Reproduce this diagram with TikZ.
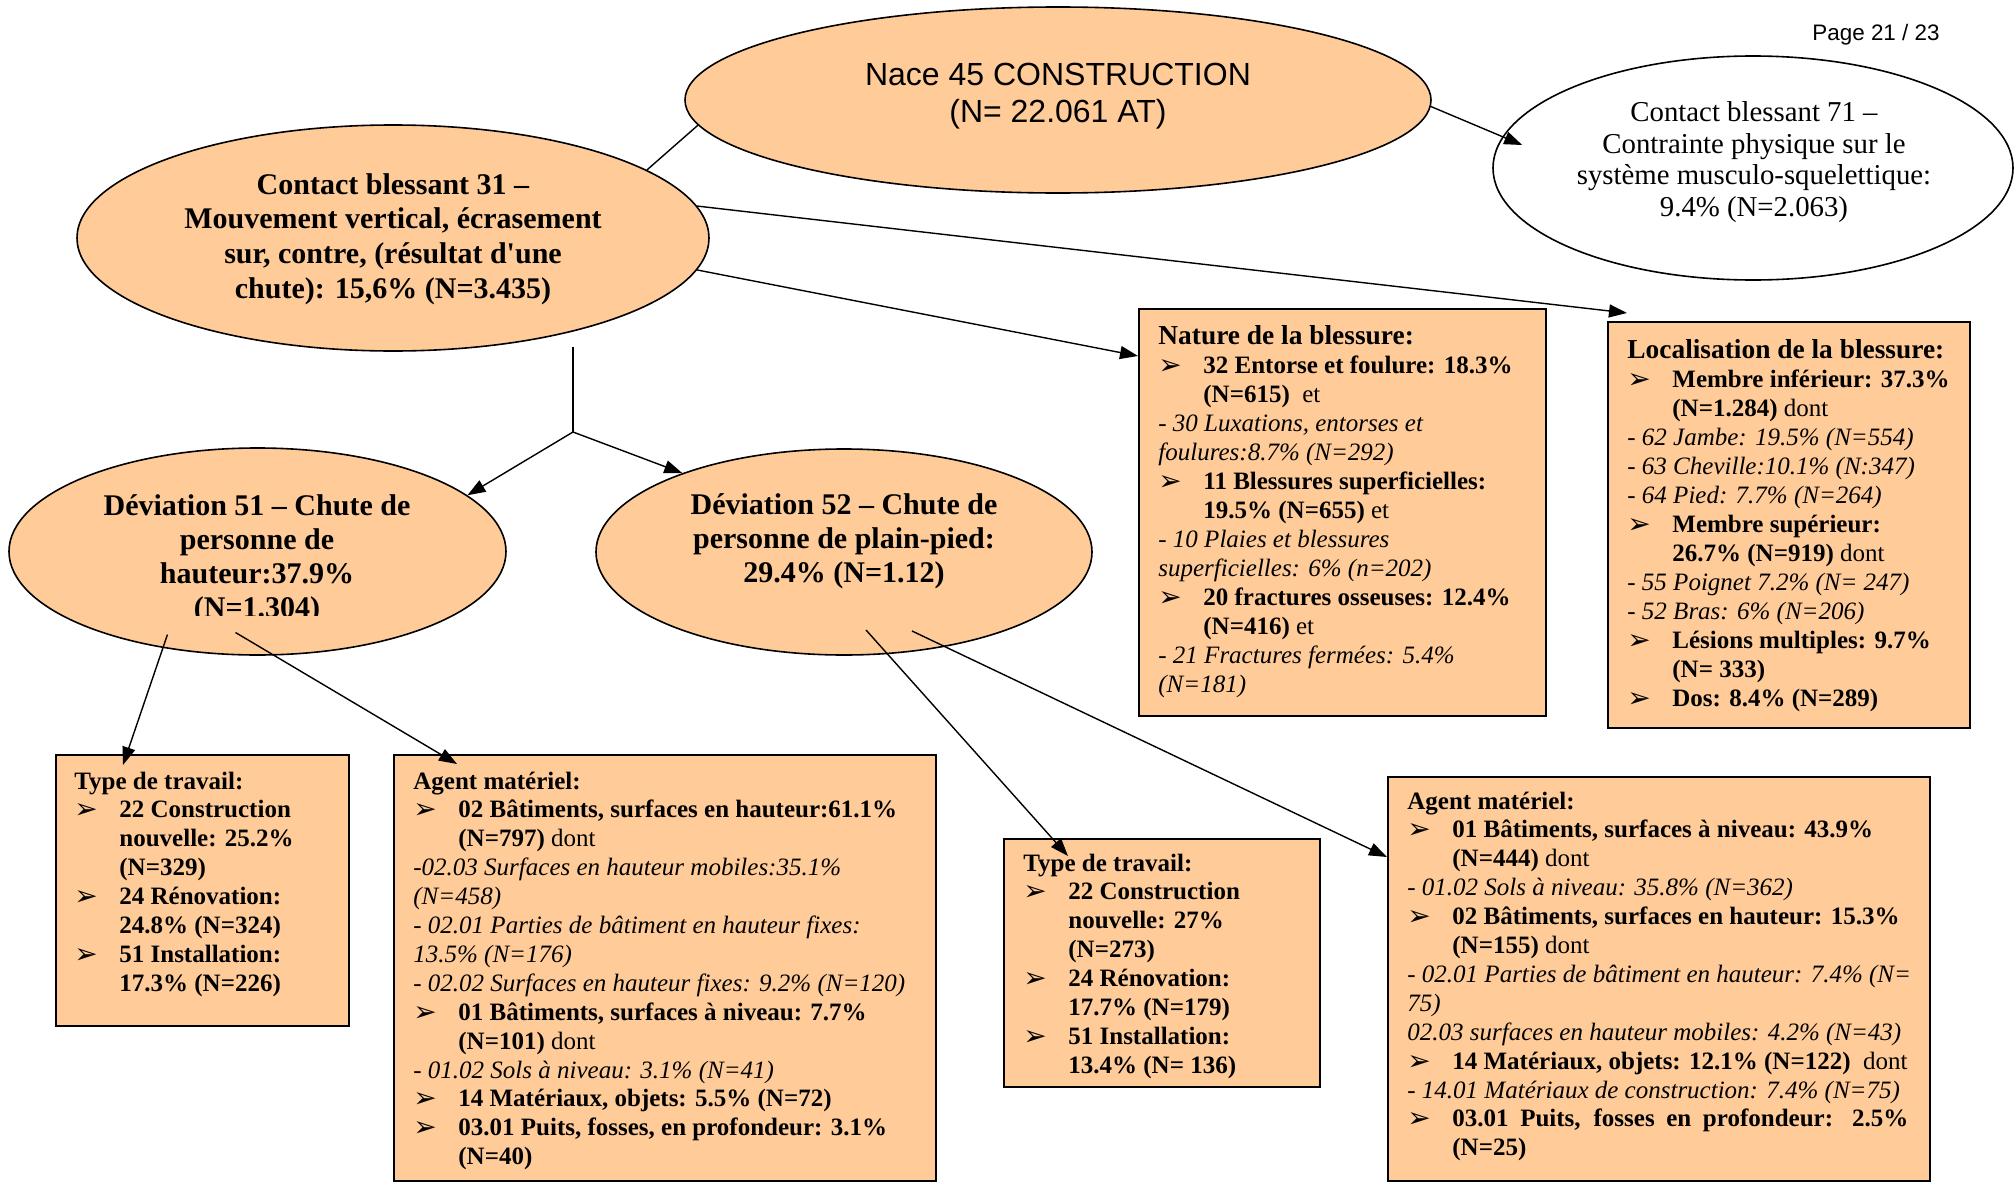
\documentclass[tikz,border=0pt]{standalone}
\usepackage{fontspec}
\setmainfont{Liberation Serif}
\newfontfamily\arialf{Liberation Sans}
\newfontfamily\dejavu{DejaVu Sans}
\usetikzlibrary{shapes.geometric,arrows.meta,calc}
\definecolor{peach}{HTML}{FFCC99}
\newcommand{\Bu}{\makebox[22.5pt][l]{\raisebox{-0.5pt}{\dejavu\fontsize{14pt}{14pt}\selectfont ➢}}}
\newcommand{\bitem}{\par\hangindent=22.5pt\hangafter=1\noindent\Bu}
\newcommand{\UH}{\fontsize{13.7pt}{14.5pt}\selectfont\bfseries\upshape}
\newcommand{\UB}{\fontsize{12.5pt}{14.5pt}\selectfont\bfseries\upshape}
\newcommand{\UI}{\fontsize{12.5pt}{14.5pt}\selectfont\mdseries\itshape}
\newcommand{\UR}{\fontsize{12.5pt}{14.5pt}\selectfont\mdseries\upshape}
\newcommand{\LB}{\fontsize{12.5pt}{14.45pt}\selectfont\bfseries\upshape}
\newcommand{\LI}{\fontsize{12.5pt}{14.45pt}\selectfont\mdseries\itshape}
\newcommand{\LR}{\fontsize{12.5pt}{14.45pt}\selectfont\mdseries\upshape}
\newcommand{\boxt}[1]{\parbox[t]{300pt}{\lineskiplimit=-20pt\relax\parindent=0pt #1}}
\begin{document}
\begin{tikzpicture}[x=0.5pt,y=-0.5pt,
  every node/.style={inner sep=0pt},
  ell/.style={ellipse, draw, line width=0.8pt, fill=peach, inner sep=0pt},
  rbox/.style={rectangle, draw, line width=1.2pt, fill=peach, inner sep=0pt, anchor=north west},
  conn/.style={line width=0.7pt},
  arr/.style={conn, -{Triangle[length=9pt,width=6.5pt]}},
  btext/.style={anchor=base west, inner sep=0pt},
  ctitle/.style={align=center, font=\bfseries\fontsize{15pt}{17.3pt}\selectfont},
]
\useasboundingbox (0,0) rectangle (2015,1183);

% ellipses
\node[ell, minimum width=373pt, minimum height=93pt] (nace) at (1058,100) {};
\node[align=center, font=\arialf\fontsize{16pt}{18.5pt}\selectfont] (naceT) at (1058,96) {Nace 45 CONSTRUCTION\\(N= 22.061 AT)};

\node[ell, minimum width=316pt, minimum height=113pt] (c31) at (393,238) {};
\node[ctitle] (c31T) at (393,239) {Contact blessant 31 –\\Mouvement vertical, écrasement\\sur, contre, (résultat d\textquotesingle une\\chute): 15,6\% (N=3.435)};

\node[ell, fill=white, minimum width=260pt, minimum height=112pt] (c71) at (1753,168) {};
\node[align=center, font=\fontsize{14.4pt}{15.7pt}\selectfont] (c71T) at (1754,162) {Contact blessant 71 –\\Contrainte physique sur le\\système musculo-squelettique:\\9.4\% (N=2.063)};

\node[ell, minimum width=248.5pt, minimum height=103.5pt] (d51) at (257.5,551.5) {};
\begin{scope}
\clip (0,400) rectangle (600,615);
\node[ctitle, font=\bfseries\fontsize{15pt}{17pt}\selectfont] (d51T) at (257,559) {Déviation 51 – Chute de\\personne de\\hauteur:37.9\%\\(N=1.304)};
\end{scope}

\node[ell, minimum width=248pt, minimum height=103pt] (d52) at (844,552) {};
\node[ctitle, font=\bfseries\fontsize{15pt}{17pt}\selectfont] (d52T) at (844,541) {Déviation 52 – Chute de\\personne de plain-pied:\\29.4\% (N=1.12)};

\node[font=\arialf\fontsize{11.2pt}{13pt}\selectfont] (page) at (1876,35) {Page 21 / 23};

% boxes
\node[rbox, minimum width=203.5pt, minimum height=203.5pt] (nature) at (1138,308) {};
\node[btext] (natureT) at ($(nature.north west)+(20,36)$) {\boxt{%
\UH Nature de la blessure:
\bitem\UB 32 Entorse et foulure: 18.3\%\\(N=615)\UR\ \ et
\par\UI - 30 Luxations, entorses et\\foulures:8.7\% (N=292)
\bitem\UB 11 Blessures superficielles:\\19.5\% (N=655)\UR\ et
\par\UI - 10 Plaies et blessures\\superficielles: 6\% (n=202)
\bitem\UB 20 fractures osseuses: 12.4\%\\(N=416)\UR\ et
\par\UI - 21 Fractures fermées: 5.4\%\\(N=181)}};

\node[rbox, minimum width=181pt, minimum height=203pt] (loc) at (1607,321) {};
\node[btext] (locT) at ($(loc.north west)+(20,37)$) {\boxt{%
\UH Localisation de la blessure:
\bitem\UB Membre inférieur: 37.3\%\\(N=1.284)\UR\ dont
\par\UI - 62 Jambe: 19.5\% (N=554)
\par\UI - 63 Cheville:10.1\% (N:347)
\par\UI - 64 Pied: 7.7\% (N=264)
\bitem\UB Membre supérieur:\\26.7\% (N=919)\UR\ dont
\par\UI - 55 Poignet 7.2\% (N= 247)
\par\UI - 52 Bras: 6\% (N=206)
\bitem\UB Lésions multiples: 9.7\%\\(N= 333)
\bitem\UB Dos: 8.4\% (N=289)}};

\node[rbox, minimum width=146.5pt, minimum height=135.5pt] (typeL) at (55,754) {};
\node[btext] (typeLT) at ($(typeL.north west)+(19,35)$) {\boxt{%
\LB Type de travail:
\bitem\LB 22 Construction\\nouvelle: 25.2\%\\(N=329)
\bitem\LB 24 Rénovation:\\24.8\% (N=324)
\bitem\LB 51 Installation:\\17.3\% (N=226)}};

\node[rbox, minimum width=271pt, minimum height=213pt] (agentL) at (393,754) {};
\node[btext] (agentLT) at ($(agentL.north west)+(20,35)$) {\boxt{%
\LB Agent matériel:
\bitem\LB 02 Bâtiments, surfaces en hauteur:61.1\%\\(N=797)\LR\ dont
\par\LI -02.03 Surfaces en hauteur mobiles:35.1\%\\(N=458)
\par\LI - 02.01 Parties de bâtiment en hauteur fixes:\\13.5\% (N=176)
\par\LI - 02.02 Surfaces en hauteur fixes: 9.2\% (N=120)
\bitem\LB 01 Bâtiments, surfaces à niveau: 7.7\%\\(N=101)\LR\ dont
\par\LI - 01.02 Sols à niveau: 3.1\% (N=41)
\bitem\LB 14 Matériaux, objets: 5.5\% (N=72)
\bitem\LB 03.01 Puits, fosses, en profondeur: 3.1\%\\(N=40)}};

\node[rbox, minimum width=158pt, minimum height=124pt] (typeM) at (1003,838) {};
\node[btext] (typeMT) at ($(typeM.north west)+(20,33)$) {\boxt{%
\LB Type de travail:
\bitem\LB 22 Construction\\nouvelle: 27\%\\(N=273)
\bitem\LB 24 Rénovation:\\17.7\% (N=179)
\bitem\LB 51 Installation:\\13.4\% (N= 136)}};

\node[rbox, minimum width=271pt, minimum height=202pt] (agentR) at (1387,776) {};
\node[btext] (agentRT) at ($(agentR.north west)+(20,33)$) {\boxt{%
\LB Agent matériel:
\bitem\LB 01 Bâtiments, surfaces à niveau: 43.9\%\\(N=444)\LR\ dont
\par\LI - 01.02 Sols à niveau: 35.8\% (N=362)
\bitem\LB 02 Bâtiments, surfaces en hauteur: 15.3\%\\(N=155)\LR\ dont
\par\LI - 02.01 Parties de bâtiment en hauteur: 7.4\% (N=\\75)
\par\LI 02.03 surfaces en hauteur mobiles: 4.2\% (N=43)
\bitem\LB 14 Matériaux, objets: 12.1\% (N=122)\LR\ \ dont
\par\LI - 14.01 Matériaux de construction: 7.4\% (N=75)
\bitem\LB\makebox[228pt][s]{03.01 Puits, fosses en profondeur: 2.5\%}\\(N=25)}};

% connectors
\coordinate (forktop) at (573,347);
\coordinate (fork) at (573,432);
\draw[conn] (nace.184) -- (c31.15);
\draw[arr] (nace.-1) -- ($(c71.west)+(30,-23)$);
\draw[arr] (c31.-6) -- ($(nature.north west)+(0,48)$);
\draw[arr] (c31.6) -- ($(loc.north west)+(20,-8)$);
\draw[conn] (forktop) -- (fork);
\draw[arr] (fork) -- (d51.15);
\draw[arr] (fork) -- (d52.154);
\draw[arr] ($(d51.center)+(-90,83)$) -- ($(typeL.north west)+(68,11)$);
\draw[arr] ($(d51.center)+(-22,81)$) -- ($(agentL.north west)+(64,10)$);
\draw[arr] ($(d52.center)+(22,78)$) -- ($(typeM.north west)+(65,18)$);
\draw[arr] ($(d52.center)+(68,79)$) -- ($(agentR.north west)+(0,81)$);
\end{tikzpicture}
\end{document}
